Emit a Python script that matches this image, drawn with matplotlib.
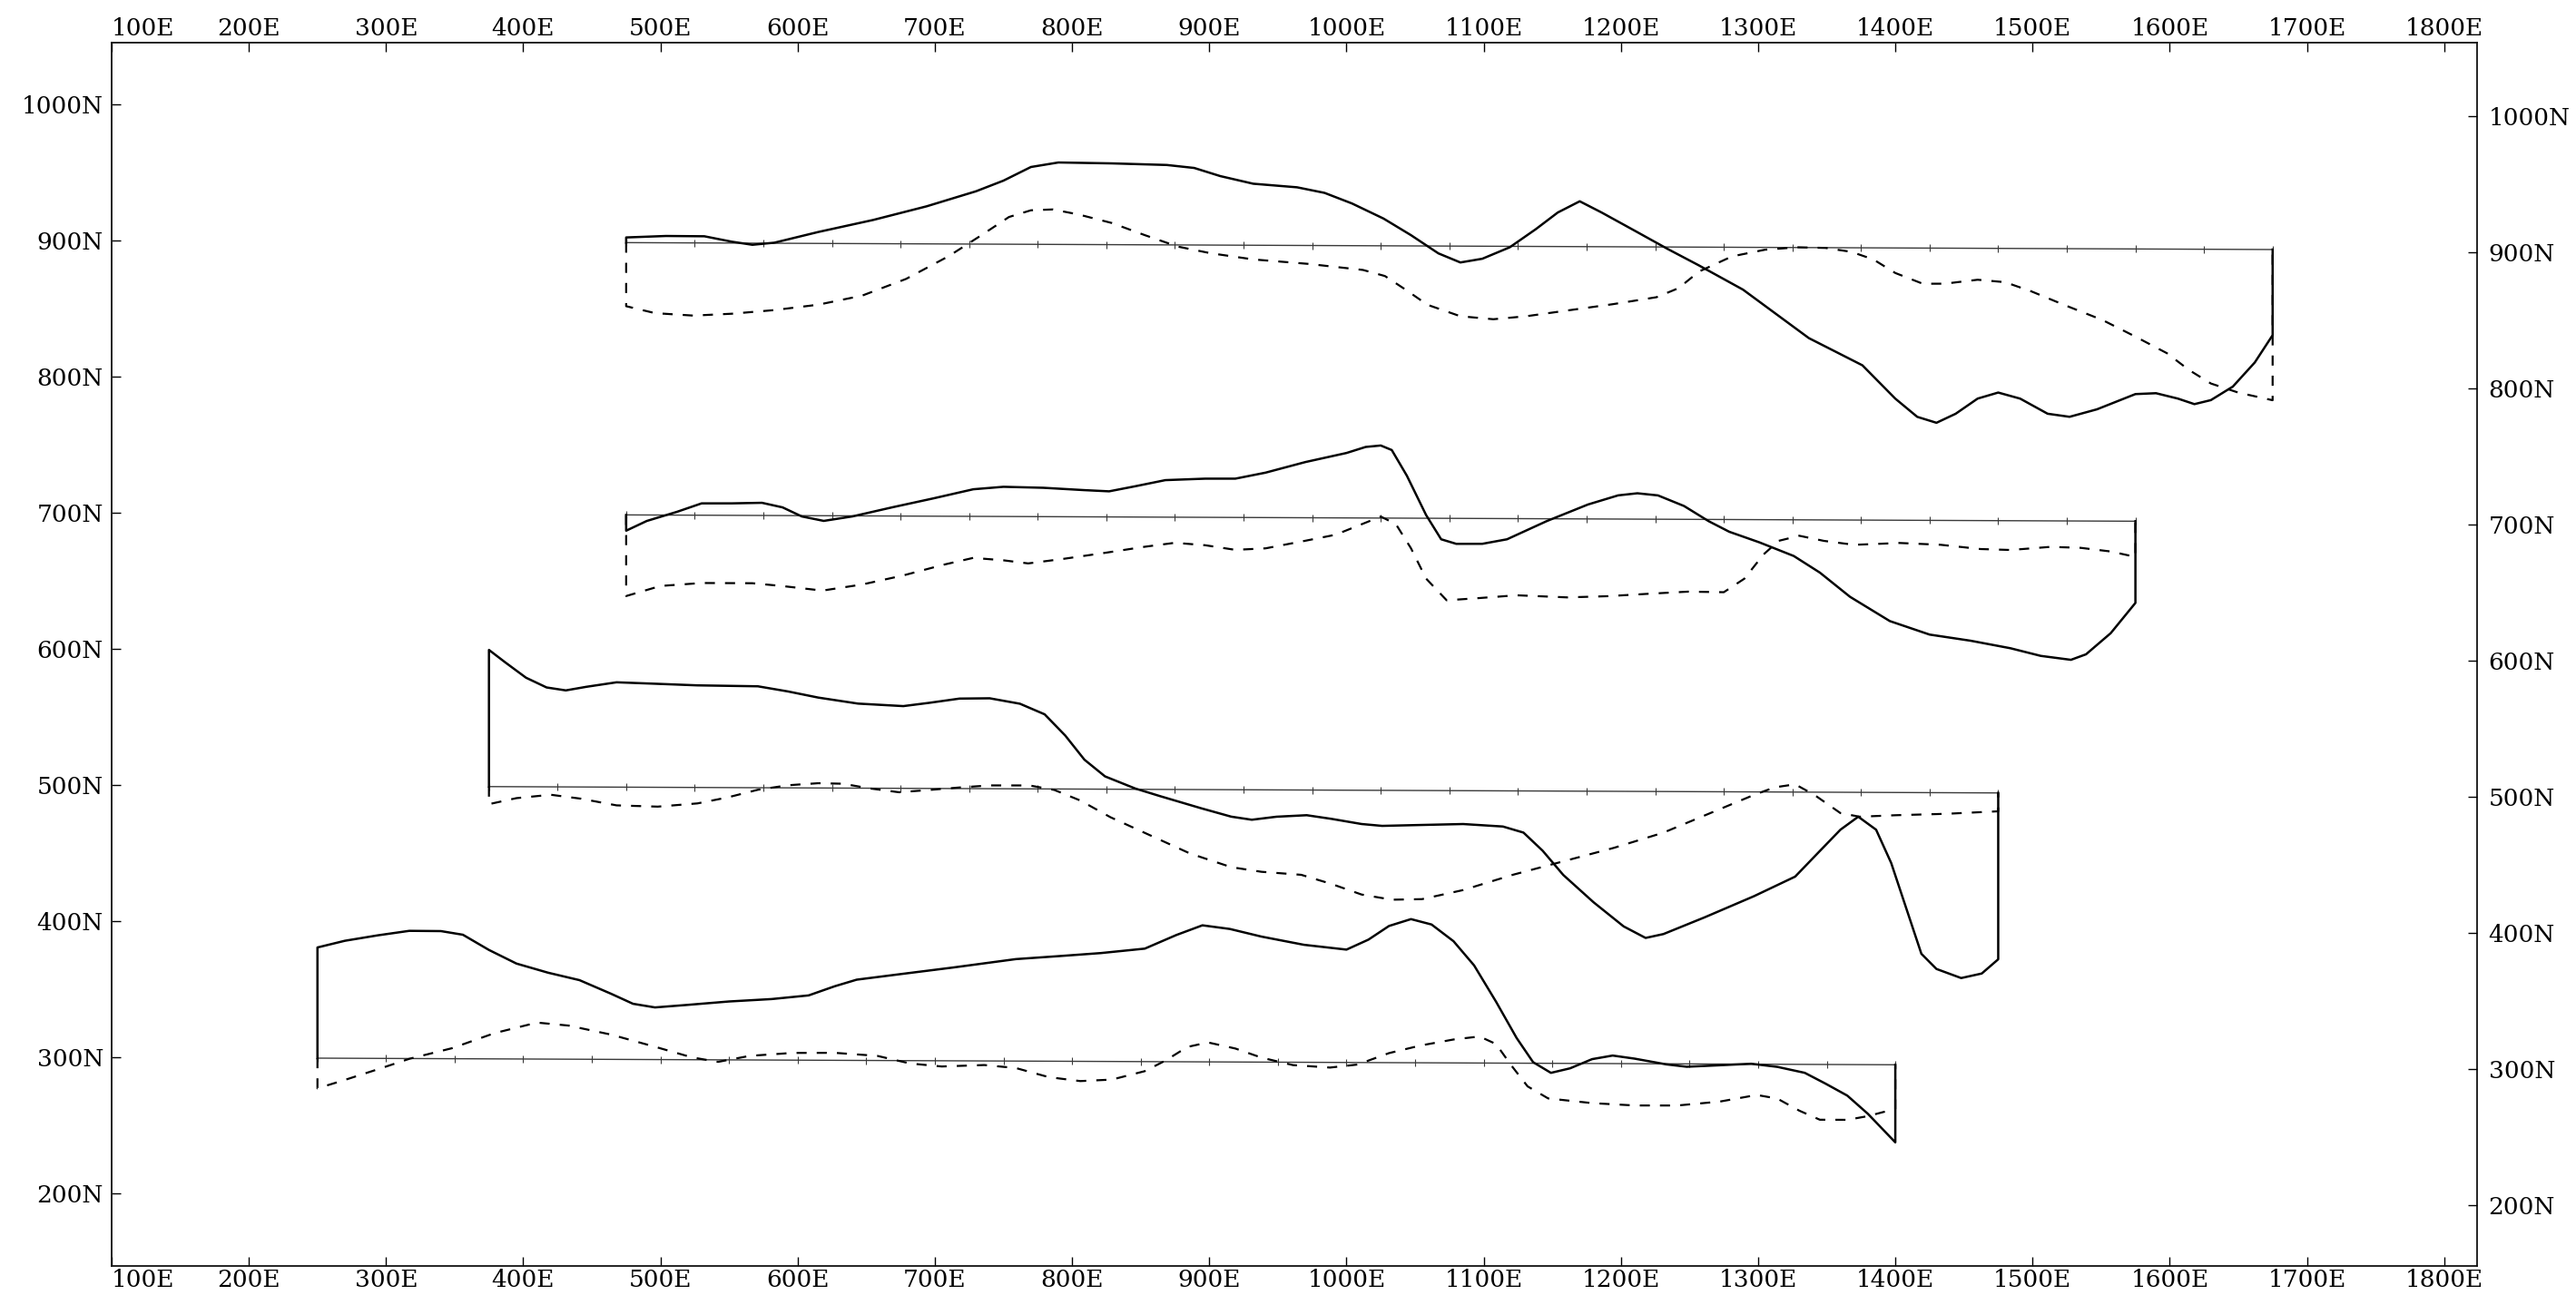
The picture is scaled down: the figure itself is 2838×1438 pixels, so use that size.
import numpy as np
import matplotlib
matplotlib.use("Agg")
import matplotlib.pyplot as plt
from matplotlib.transforms import Affine2D
from matplotlib.ticker import FixedLocator, FuncFormatter

# ---- traverse 1 : reference line 900N, 475E - 1675E ----
base1 = 900
span1 = [475, 1675]
solid1_x = [475, 504, 532, 552, 567, 583, 615, 655, 694, 730, 750, 770, 790, 829, 869, 889, 908, 932,
            964, 984, 1004, 1027, 1047, 1067, 1083, 1099, 1119, 1138, 1154, 1170, 1186, 1210, 1234,
            1257, 1289, 1313, 1337, 1376, 1400, 1416, 1430, 1444, 1460, 1475, 1491, 1511, 1527, 1547,
            1575, 1590, 1606, 1618, 1630, 1646, 1662, 1675]
solid1_y = [903.8, 905.0, 904.9, 901.0, 898.8, 900.4, 908.4, 917.4, 927.6, 938.8, 946.7, 956.8, 960.2,
            959.7, 958.7, 956.6, 950.7, 945.2, 942.7, 938.7, 931.0, 920.0, 907.9, 894.6, 888.0, 890.8,
            899.3, 912.7, 925.0, 933.3, 925.1, 911.9, 898.6, 886.5, 868.9, 851.2, 833.5, 813.7, 789.3,
            776.0, 771.7, 778.4, 789.6, 794.1, 789.7, 778.7, 776.5, 782.1, 793.4, 794.1, 790.2, 786.2,
            789.2, 799.2, 817.0, 837.1]
dash1_x = [475, 496, 524, 552, 583, 615, 647, 679, 710, 734, 754, 770, 786, 805, 829, 853, 877, 901,
           932, 972, 1012, 1028, 1043, 1059, 1083, 1107, 1131, 1162, 1194, 1226, 1242, 1257, 1281,
           1305, 1329, 1349, 1368, 1384, 1400, 1420, 1436, 1460, 1480, 1499, 1523, 1551, 1575, 1598,
           1614, 1630, 1650, 1675]
dash1_y = [853.3, 848.3, 846.6, 848.1, 850.9, 855.0, 861.8, 874.2, 891.0, 906.6, 920.0, 925.0, 925.7,
           922.0, 915.9, 907.1, 898.8, 894.0, 889.6, 886.5, 882.2, 877.8, 867.9, 856.8, 848.5, 846.4,
           848.7, 853.2, 857.8, 863.1, 869.8, 882.1, 893.3, 898.3, 900.2, 899.8, 897.0, 891.5, 881.6,
           873.8, 873.9, 876.9, 875.2, 868.6, 858.7, 847.7, 835.6, 823.5, 811.3, 801.4, 794.8, 789.3]

# ---- traverse 2 : reference line 700N, 475E - 1575E ----
base2 = 700
span2 = [475, 1575]
solid2_x = [475, 490, 512, 530, 552, 574, 589, 603, 619, 640, 669, 699, 728, 750, 779, 809, 827, 846,
            868, 897, 919, 941, 970, 1000, 1014, 1025, 1033, 1044, 1058, 1069, 1080, 1099, 1117, 1146,
            1176, 1198, 1212, 1227, 1246, 1264, 1279, 1301, 1326, 1345, 1367, 1396, 1425, 1455, 1484,
            1506, 1528, 1539, 1557, 1575]
solid2_y = [688.4, 695.6, 702.4, 708.7, 708.8, 709.3, 706.0, 699.4, 696.2, 699.6, 706.4, 713.1, 719.9,
            721.8, 721.2, 719.6, 718.8, 722.6, 727.2, 728.4, 728.5, 733.0, 740.9, 747.7, 752.2, 753.3,
            750.0, 731.2, 702.4, 684.6, 681.3, 681.4, 684.8, 698.3, 710.6, 717.4, 719.0, 717.5, 709.8,
            698.7, 691.0, 683.3, 673.4, 661.3, 643.6, 625.9, 616.1, 611.7, 606.3, 600.8, 598.0, 602.1,
            617.7, 640.0]
dash2_x = [475, 500, 530, 567, 589, 618, 647, 677, 706, 728, 750, 768, 794, 824, 853, 875, 897, 919,
           941, 970, 992, 1014, 1025, 1036, 1047, 1058, 1073, 1095, 1124, 1161, 1190, 1220, 1249, 1275,
           1290, 1304, 1315, 1330, 1348, 1370, 1403, 1433, 1462, 1484, 1513, 1535, 1557, 1575]
dash2_y = [640.4, 647.9, 650.2, 650.2, 648.2, 645.0, 649.6, 656.4, 664.3, 669.5, 667.8, 665.6, 669.1,
           673.6, 678.2, 681.2, 679.5, 676.2, 677.4, 683.1, 687.6, 696.6, 701.1, 695.6, 677.9, 655.7,
           639.8, 641.4, 643.7, 642.3, 643.3, 645.2, 646.9, 646.6, 656.6, 674.5, 684.5, 688.3, 684.6,
           681.8, 683.3, 682.1, 679.1, 678.5, 680.9, 680.3, 677.7, 673.8]

# ---- traverse 3 : reference line 500N, 375E - 1475E ----
base3 = 500
span3 = [375, 1475]
solid3_x = [375, 387, 402, 417, 431, 446, 468, 498, 527, 571, 593, 615, 644, 677, 696, 718, 740, 762,
            780, 795, 809, 824, 846, 864, 894, 916, 931, 949, 971, 989, 1011, 1026, 1055, 1085, 1114,
            1129, 1143, 1158, 1180, 1202, 1218, 1231, 1261, 1297, 1327, 1345, 1360, 1373, 1386, 1397,
            1408, 1419, 1430, 1448, 1463, 1475]
solid3_y = [600.4, 591.2, 580.1, 573.0, 570.9, 573.6, 577.0, 576.0, 575.0, 574.5, 570.8, 566.4, 562.1,
            560.4, 562.9, 566.1, 566.4, 562.5, 554.8, 539.3, 521.6, 509.4, 500.6, 495.1, 486.3, 480.2,
            478.0, 480.3, 481.5, 478.9, 475.2, 473.9, 474.7, 475.5, 473.8, 469.4, 456.1, 438.4, 418.5,
            400.8, 392.4, 395.3, 407.7, 423.4, 437.9, 456.8, 472.5, 482.1, 472.6, 448.2, 414.9, 381.6,
            370.5, 363.9, 367.3, 377.8]
dash3_x = [375, 395, 420, 442, 468, 498, 527, 549, 571, 593, 615, 633, 652, 674, 696, 718, 740, 769,
           787, 806, 828, 857, 886, 916, 938, 967, 989, 1011, 1033, 1055, 1085, 1121, 1158, 1195, 1231,
           1268, 1297, 1312, 1327, 1341, 1360, 1374, 1400, 1437, 1475]
dash3_y = [487.1, 491.6, 494.2, 491.4, 486.6, 485.8, 488.3, 492.8, 498.5, 501.9, 503.5, 503.2, 499.9,
           497.1, 498.9, 500.8, 502.4, 502.5, 499.3, 491.6, 479.4, 466.2, 453.0, 443.1, 439.8, 437.7,
           431.1, 423.4, 419.7, 420.2, 427.0, 438.3, 448.4, 458.5, 469.8, 485.5, 497.8, 503.4, 505.7,
           498.0, 484.7, 482.1, 483.3, 484.5, 486.5]

# ---- traverse 4 : reference line 300N, 250E - 1400E ----
base4 = 300
span4 = [250, 1400]
solid4_x = [250, 270, 294, 317, 340, 356, 375, 395, 418, 441, 464, 480, 496, 519, 550, 581, 608, 627,
            643, 674, 713, 759, 790, 821, 853, 876, 895, 915, 938, 969, 1000, 1016, 1031, 1047, 1062,
            1078, 1093, 1109, 1124, 1136, 1149, 1163, 1179, 1194, 1210, 1233, 1248, 1272, 1295, 1314,
            1334, 1349, 1365, 1380, 1400]
solid4_y = [381.3, 386.3, 390.4, 393.8, 393.7, 391.1, 380.0, 370.1, 363.5, 358.1, 348.2, 340.9, 338.3,
            340.2, 342.9, 344.8, 347.6, 354.4, 359.3, 363.4, 368.5, 374.9, 377.2, 379.6, 383.0, 393.1,
            400.3, 397.7, 392.2, 386.3, 382.9, 390.3, 400.4, 405.5, 401.6, 389.4, 371.7, 345.1, 318.5,
            300.8, 293.0, 296.4, 303.2, 305.9, 303.7, 299.6, 297.9, 299.1, 300.3, 298.1, 293.8, 286.0,
            277.2, 263.9, 243.0]
dash4_x = [250, 270, 294, 317, 348, 379, 410, 433, 464, 496, 523, 542, 565, 596, 627, 658, 682, 705,
           736, 759, 783, 806, 829, 853, 868, 884, 899, 919, 938, 961, 988, 1008, 1031, 1054, 1078,
           1097, 1109, 1120, 1132, 1147, 1179, 1210, 1241, 1272, 1299, 1314, 1330, 1345, 1365, 1380,
           1400]
dash4_y = [277.8, 284.1, 292.0, 299.8, 307.7, 318.9, 326.8, 324.7, 318.2, 309.4, 301.7, 298.5, 303.0,
           305.3, 305.5, 303.4, 297.9, 295.8, 297.0, 294.9, 288.3, 285.5, 286.7, 293.0, 300.8, 310.9,
           314.3, 309.9, 303.3, 297.9, 296.2, 298.5, 307.0, 312.7, 317.2, 319.5, 314.0, 298.5, 283.0,
           274.2, 270.9, 269.3, 269.4, 272.4, 277.4, 274.8, 266.0, 259.4, 259.4, 262.2, 267.6]

# axis ticks
east_ticks = list(range(100, 1801, 100))
north_ticks = list(range(200, 1001, 100))
station_step = 50

traverses = [
    (base1, span1, solid1_x, solid1_y, dash1_x, dash1_y),
    (base2, span2, solid2_x, solid2_y, dash2_x, dash2_y),
    (base3, span3, solid3_x, solid3_y, dash3_x, dash3_y),
    (base4, span4, solid4_x, solid4_y, dash4_x, dash4_y),
]

plt.rcParams['font.family'] = ['DejaVu Serif']
plt.rcParams['lines.scale_dashes'] = False

W, H = 2838, 1438
fig = plt.figure(figsize=(W / 100, H / 100), dpi=100)
ax_l, ax_b, ax_w, ax_h = 123 / W, (H - 1395) / H, (2729 - 123) / W, (1395 - 47) / H
ax = fig.add_axes([ax_l, ax_b, ax_w, ax_h])

xlim = (100, 1824)
ylim = (146.7, 1045.3)

# the plotted sheet is turned very slightly clockwise
k_px = 0.0042
k_ax = k_px * (ax_w * W) / (ax_h * H)
shear = Affine2D(np.array([[1.0, 0.0, 0.0], [-k_ax, 1.0, 0.0], [0.0, 0.0, 1.0]]))
tr = ax.transScale + ax.transLimits + shear + ax.transAxes

line_col = 'black'
base_col = '#3a3a3a'
label_size = 19

for base, (x0, x1), sx, sy, dx, dy in traverses:
    ax.plot([x0, x1], [base, base], color=base_col, lw=1.0, transform=tr)
    st = np.arange(x0, x1 + 1, station_step)
    ax.plot(st, np.full(len(st), base), ls='none', marker='|', ms=6, mew=0.8,
            color=base_col, transform=tr)
    ax.plot(np.r_[x0, sx, x1], np.r_[base, sy, base], color=line_col, lw=1.8,
            solid_joinstyle='round', transform=tr)
    ax.plot(np.r_[x0, dx, x1], np.r_[base, dy, base], color=line_col, lw=1.6,
            dashes=(8, 8), transform=tr)

ax.set_xlim(*xlim)
ax.set_ylim(*ylim)

ax.xaxis.set_major_locator(FixedLocator(east_ticks))
ax.xaxis.set_major_formatter(FuncFormatter(lambda v, p: f"{int(round(v))}E"))
ax.yaxis.set_major_locator(FixedLocator(north_ticks))
ax.yaxis.set_major_formatter(FuncFormatter(lambda v, p: f"{int(round(v))}N"))

ax.tick_params(axis='x', direction='in', top=True, bottom=True, labeltop=True, labelbottom=True,
               length=7, width=1.0, labelsize=label_size, pad=2, colors='black')
for s in ax.spines.values():
    s.set_linewidth(1.3)
    s.set_color('#111111')

# right-hand northing scale
ax2 = ax.twinx()
ax2.set_ylim(ylim[0] + 8.5, ylim[1] + 8.5)
ax2.yaxis.set_major_locator(FixedLocator(north_ticks))
ax2.yaxis.set_major_formatter(FuncFormatter(lambda v, p: f"{int(round(v))}N"))
ax2.tick_params(axis='y', direction='in', right=True, labelright=True, left=False, labelleft=False,
                length=7, width=1.0, labelsize=label_size, pad=9)
for s in ax2.spines.values():
    s.set_visible(False)

ax.yaxis.tick_left()
ax.tick_params(axis='y', direction='in', left=True, right=False, labelleft=True, labelright=False,
               length=7, width=1.0, labelsize=label_size, pad=6.5)

fig.canvas.draw()
first = ax.xaxis.get_major_ticks()[0]
first.label1.set_horizontalalignment('left')
first.label2.set_horizontalalignment('left')

fig.savefig('out.png', dpi=100, facecolor='white')
